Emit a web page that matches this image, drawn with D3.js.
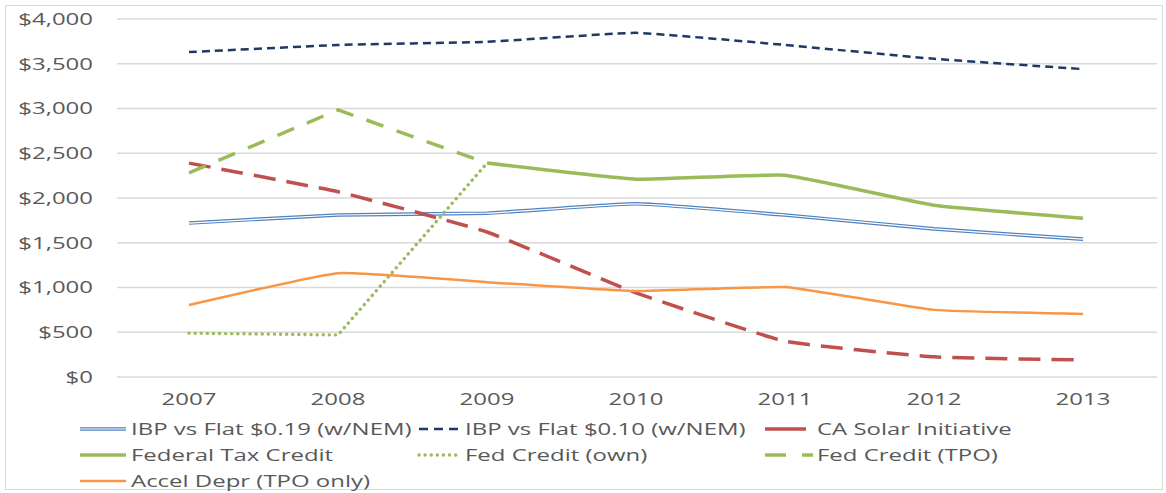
<!DOCTYPE html>
<html lang="en">
<head>
<meta charset="UTF-8">
<title>Incentives by year</title>
<script src="https://d3js.org/d3.v7.min.js"></script>
<style>
  body { margin: 0; background: #fff; }
  svg text { font-family: "Open Sans", "DejaVu Sans", sans-serif; fill: #595959; }
</style>
</head>
<body>
<svg id="chart" width="1166" height="493"></svg>
<script>
// data
const years = ["2007", "2008", "2009", "2010", "2011", "2012", "2013"];
const yTicks = [0, 500, 1000, 1500, 2000, 2500, 3000, 3500, 4000];

const ibp19 = [1720, 1810, 1830, 1935, 1810, 1655, 1540];
const ibp10 = [3630, 3710, 3745, 3845, 3710, 3555, 3440];
const caSolar = [2390, 2070, 1620, 940, 400, 225, 190];
const fedTax = [null, null, 2390, 2210, 2255, 1920, 1775];
const fedOwn = [490, 470, 2390, null, null, null, null];
const fedTpo = [2280, 2985, 2390, null, null, null, null];
const accel = [805, 1160, 1060, 960, 1005, 750, 705];

const series = [
  { name: "IBP vs Flat $0.19 (w/NEM)", values: ibp19, color: "#4f81bd", width: 3.6, dash: null, double: true },
  { name: "IBP vs Flat $0.10 (w/NEM)", values: ibp10, color: "#1f3864", width: 2.5, dash: "8,5" },
  { name: "CA Solar Initiative", values: caSolar, color: "#c0504d", width: 3.5, dash: "22,11" },
  { name: "Federal Tax Credit", values: fedTax, color: "#9bbb59", width: 3.5, dash: null },
  { name: "Fed Credit (own)", values: fedOwn, color: "#9bbb59", width: 3.4, dash: "0.1,6", round: true, straight: true },
  { name: "Fed Credit (TPO)", values: fedTpo, color: "#9bbb59", width: 3.5, dash: "18,14", straight: true },
  { name: "Accel Depr (TPO only)", values: accel, color: "#f79646", width: 2.5, dash: null }
];

const svg = d3.select("#chart");
const fontSize = 17;
const stretch = 1.41; // text in the picture is drawn wide

// place a text node stretched horizontally around its anchor
function wideText(parent, tx, ty, anchor, str) {
  return parent.append("text")
    .attr("transform", `translate(${tx},${ty}) scale(${stretch},1)`)
    .attr("dy", "0.35em")
    .attr("text-anchor", anchor)
    .attr("font-size", fontSize)
    .text(str);
}

// outer frame
svg.append("rect")
  .attr("x", 5.5).attr("y", 5.5)
  .attr("width", 1157).attr("height", 484)
  .attr("fill", "none").attr("stroke", "#d9d9d9");

const x = d3.scalePoint().domain(years).range([189, 1083]);
const y = d3.scaleLinear().domain([0, 4000]).range([377, 19]);

// gridlines
svg.append("g")
  .selectAll("line")
  .data(yTicks)
  .join("line")
    .attr("x1", 117).attr("x2", 1157)
    .attr("y1", d => y(d)).attr("y2", d => y(d))
    .attr("stroke", "#d9d9d9").attr("stroke-width", 1.3);

const yAxis = svg.append("g");
yTicks.forEach(d => wideText(yAxis, 93, y(d), "end", "$" + d3.format(",")(d)));

const xAxis = svg.append("g");
years.forEach(d => wideText(xAxis, x(d), 399, "middle", d));

function makeLine(curve) {
  return d3.line()
    .defined(d => d.v != null)
    .x(d => x(d.year))
    .y(d => y(d.v))
    .curve(curve);
}
const smoothLine = makeLine(d3.curveCardinal.tension(0.65));
const straightLine = makeLine(d3.curveLinear);

const lines = svg.append("g");
series.forEach(s => {
  const pts = years.map((yr, i) => ({ year: yr, v: s.values[i] }));
  const line = s.straight ? straightLine : smoothLine;
  const p = lines.append("path")
    .datum(pts)
    .attr("d", line)
    .attr("fill", "none")
    .attr("stroke", s.color)
    .attr("stroke-width", s.width)
    .attr("stroke-linecap", s.round ? "round" : "butt")
    .attr("stroke-linejoin", "round");
  if (s.dash) p.attr("stroke-dasharray", s.dash);
  if (s.double) {
    lines.append("path")
      .datum(pts)
      .attr("d", line)
      .attr("fill", "none")
      .attr("stroke", "#fff")
      .attr("stroke-width", 1.2);
  }
});

// legend: [symbol start, symbol length, text start, row y]
const legendPos = [
  [80, 46, 131, 429], [419, 41, 465, 429], [765, 41, 817, 429],
  [80, 46, 131, 455], [419, 41, 465, 455], [765, 48, 817, 455],
  [80, 46, 131, 481]
];
const legendDash = ["", "9,6", "", "", "0.1,6", "21,16", ""];
const legend = svg.append("g");
series.forEach((s, i) => {
  const [sx, len, tx, ly] = legendPos[i];
  const seg = legend.append("line")
    .attr("x1", sx).attr("x2", sx + len)
    .attr("y1", ly).attr("y2", ly)
    .attr("stroke", s.color)
    .attr("stroke-width", s.width)
    .attr("stroke-linecap", s.round ? "round" : "butt");
  if (legendDash[i]) seg.attr("stroke-dasharray", legendDash[i]);
  if (s.double) {
    legend.append("line")
      .attr("x1", sx).attr("x2", sx + len)
      .attr("y1", ly).attr("y2", ly)
      .attr("stroke", "#fff").attr("stroke-width", 1.2);
  }
  wideText(legend, tx, ly, "start", s.name);
});
</script>
</body>
</html>
